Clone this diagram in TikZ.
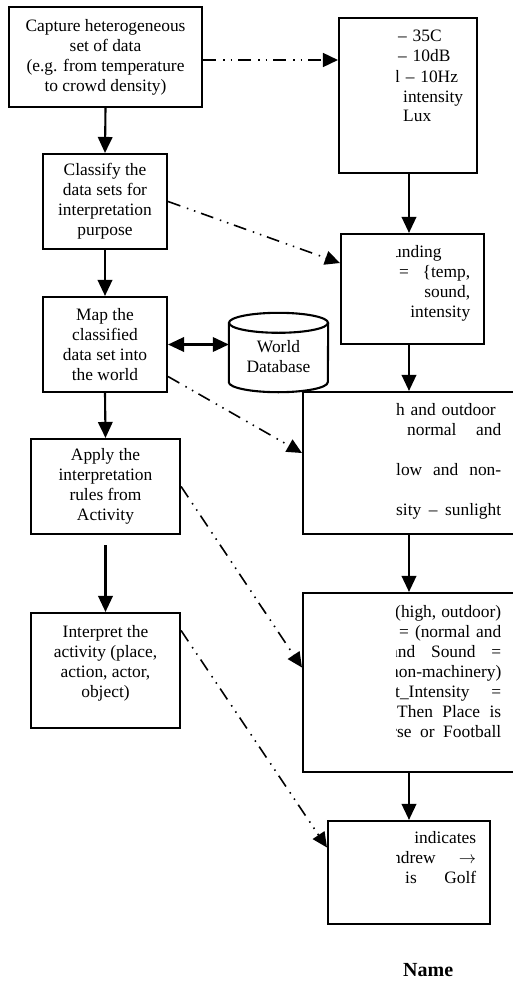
\documentclass[tikz,border=0pt]{standalone}
\usepackage{fontspec}
\setmainfont{Liberation Serif}
\usepackage{tikz}
\usetikzlibrary{arrows.meta}
\setlength{\parindent}{0pt}
\newcommand{\jline}[1]{\makebox[\hsize][s]{\spaceskip=0.25em plus 1fil\relax #1}}

\begin{document}
\begin{tikzpicture}[x=1pt, y=-1pt,
  every node/.style={font=\fontsize{17.4pt}{20pt}\selectfont, inner sep=0pt},
  procbox/.style={draw, line width=2.1pt, align=center},
  rtext/.style={anchor=base west, align=left},
  flow/.style={line width=2.1pt, -{Triangle[length=16pt,width=14.5pt]}},
  dflow/.style={line width=2.1pt, {Triangle[length=16pt,width=14.5pt]}-{Triangle[length=16pt,width=14.5pt]}},
  link/.style={line width=1.6pt, dash pattern=on 13pt off 7pt on 1.5pt off 6pt on 1.5pt off 6pt,
    -{Triangle[length=15pt,width=14pt]}}]
%%%%% Frame %%%%%
\useasboundingbox (0,0) rectangle (513,982);
\clip (0,0) rectangle (513,982);

%%%%% Left column %%%%%
\node[procbox, minimum width=193pt, minimum height=100pt] (capture) at (105.5,57)
  {Capture heterogeneous\\set of data\\(e.g. from temperature\\to crowd density)};
\node[procbox, minimum width=124pt, minimum height=95pt] (classify) at (105,201.5)
  {Classify the\\data sets for\\interpretation\\purpose};
\node[procbox, minimum width=124pt, minimum height=95pt] (mapw) at (105,344.5)
  {Map the\\classified\\data set into\\the world};
\node[procbox, minimum width=149pt, minimum height=95pt] (apply) at (105.5,486.5)
  {Apply the\\interpretation\\rules from\\Activity};
\node[procbox, minimum width=149pt, minimum height=115pt] (interp) at (105.5,670.5) {};
\node[align=center] (interptxt) at ([yshift=7pt]interp.center)
  {Interpret the\\activity (place,\\action, actor,\\object)};

%%%%% Database %%%%%
\node[minimum width=99pt, minimum height=79pt] (db) at (278.5,352.5) {};
\draw[line width=2.1pt] ([yshift=-10pt]db.north west) -- ([yshift=10pt]db.south west)
  arc[start angle=180, end angle=0, x radius=49.5, y radius=10] -- ([yshift=-10pt]db.north east);
\draw[line width=2.1pt] ([yshift=-10pt]db.north) ellipse[x radius=49.5, y radius=10];
\node[align=center] (dbtxt) at ([yshift=-4pt]db.center) {World\\Database};

%%%%% Right column %%%%%
\node[procbox, minimum width=138pt, minimum height=155pt] (sensed) at (408,95.5) {};
\node[procbox, minimum width=143pt, minimum height=110pt] (grounded) at (412.5,289) {};
\node[procbox, minimum width=227pt, minimum height=142pt] (ctx) at (416.5,463) {};
\node[procbox, minimum width=227pt, minimum height=179pt] (rule) at (416.5,682.5) {};
\node[procbox, minimum width=162pt, minimum height=103pt] (verdict) at (409,872.5) {};
\coordinate (col) at (409,0);

% texts cut off on the left
\begin{scope}
\clip (396,0) rectangle (513,982);
\node[rtext, text width=80pt] (sensedtxt) at (396,42)
  {\hspace*{2pt}– 35C\\ \hspace*{2pt}– 10dB\\ \hspace*{-1pt}l – 10Hz\\ \hspace*{7pt}intensity\\ \hspace*{7pt}Lux};
\node[rtext, text width=75pt] (groundtxt) at (395,257)
  {\hspace*{-2pt}unding\\ \jline{\hspace{4pt}= \{temp,}\\ \jline{\hfill sound,}\\ \jline{\hfill intensity}};
\node[rtext, text width=105pt] (ctxtxt) at (396,415)
  {h and outdoor\\ \jline{\hspace{11pt}normal and}\\ \mbox{}\\ \jline{low and non-}\\ \mbox{}\\ \jline{sity – sunlight}};
\node[rtext, text width=106pt] (ruletxt) at (395,617)
  {\jline{(high, outdoor)}\\ \jline{\hspace{4pt}= (normal and}\\ \jline{\hspace{-5pt}and Sound =}\\
   \jline{\hspace{-5pt}non-machinery)}\\ \jline{t\_Intensity =}\\ \jline{\hspace{2pt}Then Place is}\\
   \jline{\hspace{-4pt}rse or Football}};
\node[rtext, text width=81pt] (verdicttxt) at (395,843)
  {\jline{\hfill indicates}\\ \jline{\hspace{-3pt}ndrew $\rightarrow$}\\ \jline{\hspace{10pt}is Golf}};
\end{scope}

\node[anchor=base west, font=\fontsize{20pt}{24pt}\selectfont\bfseries] (title) at (403,976) {Name};

%%%%% Arrows %%%%%
\draw[flow] (capture.south) -- (classify.north);
\draw[flow] (classify.south) -- (mapw.north);
\draw[flow] (mapw.south) -- (apply.north);
\draw[flow] ([yshift=-10pt]apply.south) -- (interp.north);
\draw[dflow] (mapw.east) -- (mapw.east -| db.west);

\draw[flow] (sensed.south -| col) -- (grounded.north -| col);
\draw[flow] (grounded.south -| col) -- (ctx.north -| col);
\draw[flow] (ctx.south -| col) -- (rule.north -| col);
\draw[flow] (rule.south -| col) -- (verdict.north -| col);

\draw[link] ([yshift=-3pt]capture.east) -- ([yshift=-3pt]capture.east -| sensed.west);
\draw[link] (classify.east) -- ([yshift=26pt]grounded.west);
\draw[link] ([yshift=-32pt]mapw.east) -- ([yshift=10pt]ctx.west);
\draw[link] (apply.east) -- ([yshift=15pt]rule.west);
\draw[link] ([yshift=40pt]interp.east) -- ([yshift=25pt]verdict.west);
\end{tikzpicture}
\end{document}
